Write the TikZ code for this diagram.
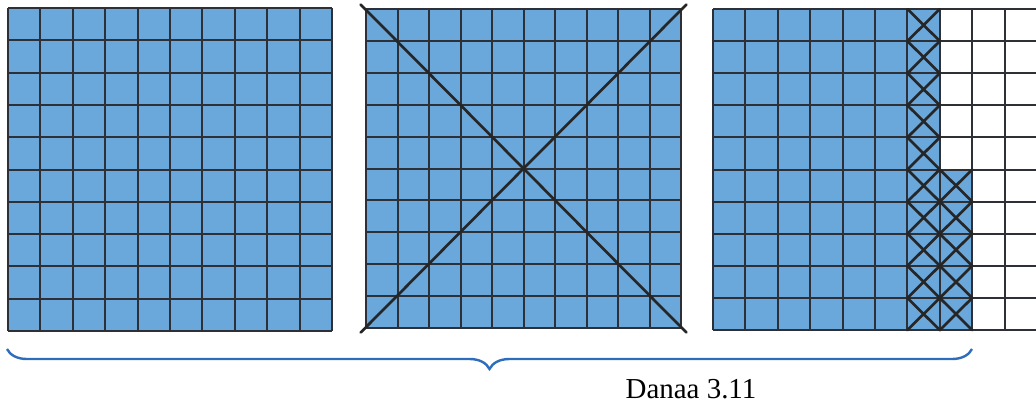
\documentclass[tikz,border=0pt]{standalone}
\usepackage{fontspec}
\setmainfont{Liberation Serif}
\usepackage{tikz}
\definecolor{cellblue}{RGB}{106,168,220}
\definecolor{gridgray}{RGB}{45,48,55}
\definecolor{braceblue}{RGB}{46,108,188}
\tikzset{
    cellfill/.style={fill=cellblue},
    gridline/.style={draw=gridgray, line width=1.5pt},
    crossline/.style={draw=black!85, line width=2pt, line cap=round},
    bracebar/.style={draw=braceblue, line width=1.8pt, decorate,
        decoration={brace, mirror, amplitude=15pt}}
}
\usetikzlibrary{decorations.pathreplacing}

\begin{document}
\begin{tikzpicture}[x=0.75pt, y=-0.75pt]
    \useasboundingbox (0,0) rectangle (1036,404);
    % whole square
    \begin{scope}[shift={(8,8)}, x=24.3pt, y=-24.23pt]
        \fill[cellfill] (0,0) rectangle (10,10);
        \foreach \i in {0,...,10} {
            \draw[gridline] (\i,0) -- (\i,10);
            \draw[gridline] (0,\i) -- (10,\i);
        }
    \end{scope}
    % crossed out square
    \begin{scope}[shift={(366,9)}, x=23.63pt, y=-23.93pt]
        \fill[cellfill] (0,0) rectangle (10,10);
        \foreach \i in {0,...,10} {
            \draw[gridline] (\i,0) -- (\i,10);
            \draw[gridline] (0,\i) -- (10,\i);
        }
        \coordinate (tl) at (-0.17,-0.14);
        \coordinate (br) at (10.17,10.14);
        \coordinate (tr) at (10.17,-0.14);
        \coordinate (bl) at (-0.17,10.14);
        \draw[crossline] (tl) -- (br);
        \draw[crossline] (tr) -- (bl);
    \end{scope}
    % part of square
    \begin{scope}[shift={(713,9)}, x=24.3pt, y=-24.08pt]
        \fill[cellfill] (0,0) rectangle (7,10);
        \fill[cellfill] (7,5) rectangle (8,10);
        \foreach \i in {0,...,10} {
            \draw[gridline] (\i,0) -- (\i,10);
            \draw[gridline] (0,\i) -- (10,\i);
        }
        \foreach \r in {0,...,9}
            \draw[crossline] (6,\r) -- (7,\r+1) (7,\r) -- (6,\r+1);
        \foreach \r in {5,...,9}
            \draw[crossline] (7,\r) -- (8,\r+1) (8,\r) -- (7,\r+1);
    \end{scope}
    % brace and caption
    \coordinate (braceL) at (7,349);
    \coordinate (braceR) at (972,349);
    \draw[bracebar] (braceL) -- (braceR);
    \node[font=\fontsize{21.7}{26}\selectfont, anchor=base] (caption) at (691,398) {Danaa 3.11};
\end{tikzpicture}
\end{document}
